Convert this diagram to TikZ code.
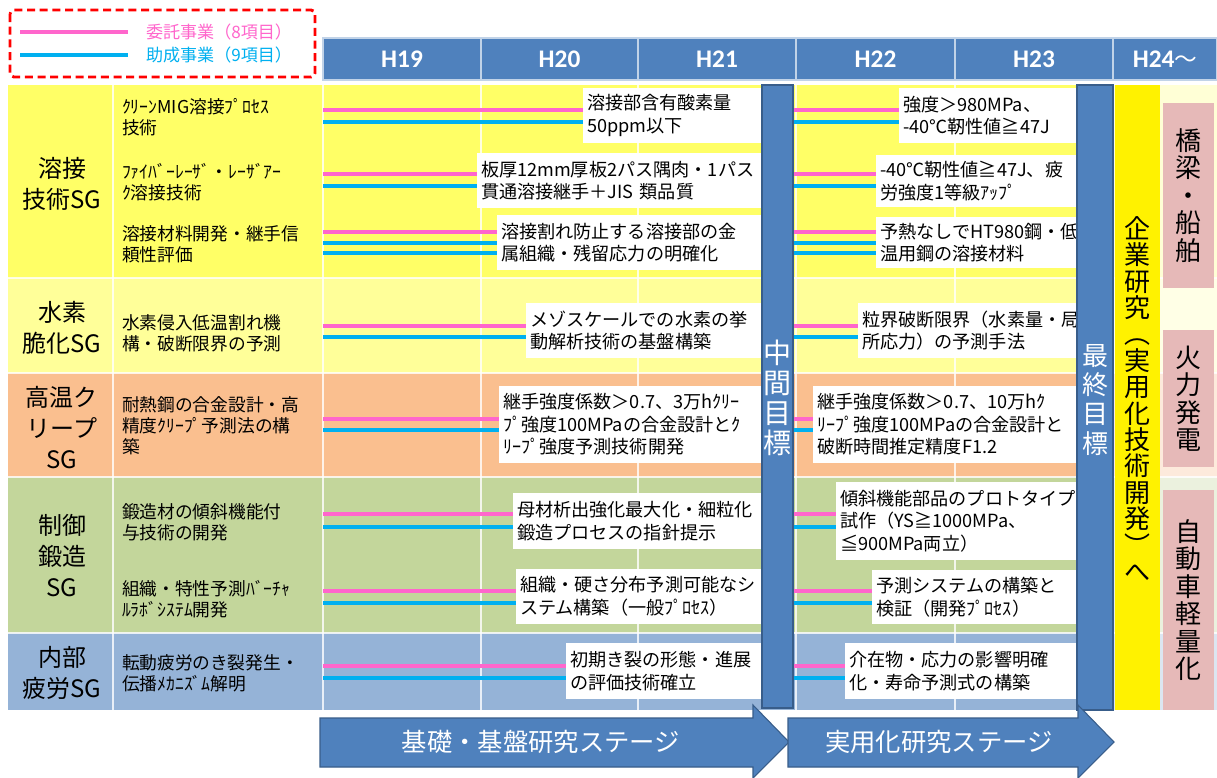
\documentclass[tikz,border=0pt]{standalone}
\usepackage{fontspec}
\setmainfont{Noto Sans CJK JP}
\newfontfamily\hdrfont{Carlito}
\definecolor{rowA}{HTML}{FFFF66}
\definecolor{rowB}{HTML}{FFFF99}
\definecolor{rowC}{HTML}{FABF8F}
\definecolor{rowD}{HTML}{C3D69B}
\definecolor{rowE}{HTML}{95B3D7}
\definecolor{rowAp}{HTML}{FFFFD6}
\definecolor{rowBp}{HTML}{FFFFE6}
\definecolor{rowCp}{HTML}{FDEADC}
\definecolor{rowDp}{HTML}{EBF1DE}
\definecolor{rowEp}{HTML}{DCE6F1}
\definecolor{hdr}{HTML}{4F81BD}
\definecolor{hdrline}{HTML}{385D8A}
\definecolor{lpink}{HTML}{FF66CC}
\definecolor{lblue}{HTML}{00B0F0}
\definecolor{goalpink}{HTML}{E6B9B8}
\newcommand{\rnode}[7]{%
  \pgfmathsetmacro\rnW{(#5-#3)*0.75}%
  \pgfmathsetmacro\rnH{(#6-#4)*0.75}%
  \node[#2, minimum width=\rnW pt, minimum height=\rnH pt, anchor=north west] (#1) at (#3,#4) {#7};}
\newcommand{\tnode}[6]{%
  \pgfmathsetmacro\rnW{(#4-#2-8)*0.75}%
  \pgfmathsetmacro\rnH{(#5-#3)*0.75}%
  \node[gbox, text width=\rnW pt, minimum height=\rnH pt, anchor=north west] (#1) at (#2,#3) {#6};}
\begin{document}
\begin{tikzpicture}[x=0.75pt,y=-0.75pt,
  every node/.style={inner sep=0pt, outer sep=0pt},
  gbox/.style={fill=white, draw=none, rectangle, inner xsep=3pt, inner ysep=0pt, align=left,
    font=\fontsize{13.6pt}{16.9pt}\selectfont},
  itemtext/.style={align=left, anchor=west, font=\fontsize{13.3pt}{15.9pt}\selectfont},
  sgtext/.style={align=center, font=\fontsize{18pt}{23.25pt}\selectfont},
  bar/.style={fill=hdr, draw=hdrline, line width=0.8pt},
  hcell/.style={fill=hdr, draw=white!65!hdr, line width=0.8pt, text=white,
    font=\hdrfont\bfseries\fontsize{19pt}{21pt}\selectfont},
  pinkline/.style={draw=lpink, line width=3pt},
  blueline/.style={draw=lblue, line width=3pt},
  gridline/.style={draw=white, line width=1pt, opacity=0.8},
  goal/.style={fill=goalpink, draw=none, align=center, font=\fontsize{19.5pt}{20.6pt}\selectfont},
  vtext/.style={align=center, text=white},
  stagearrow/.style={fill=hdr, draw=hdrline, line width=0.8pt},
  stagetext/.style={text=white, font=\fontsize{19pt}{21pt}\selectfont},
]
\useasboundingbox (0,0) rectangle (1217,778);
\fill[white] (0,0) rectangle (1217,778);

% legend
\draw[red, line width=2.2pt, dash pattern=on 6pt off 3.5pt, rounded corners=3pt] (10,10) rectangle (315,77);
\coordinate (lp1) at (20,32); \coordinate (lp2) at (128,32);
\coordinate (lb1) at (20,55); \coordinate (lb2) at (128,55);
\draw[pinkline] (lp1) -- (lp2);
\draw[blueline] (lb1) -- (lb2);
\node[anchor=west, text=lpink, font=\fontsize{12.8pt}{14pt}\selectfont] (legP) at (146,32) {委託事業（8項目）};
\node[anchor=west, text=lblue, font=\fontsize{12.8pt}{14pt}\selectfont] (legB) at (146,55) {助成事業（9項目）};

% header
\rnode{h19}{hcell}{323}{38}{481}{80}{H19}
\rnode{h20}{hcell}{481}{38}{638}{80}{H20}
\rnode{h21}{hcell}{638}{38}{796}{80}{H21}
\rnode{h22}{hcell}{796}{38}{955}{80}{H22}
\rnode{h23}{hcell}{955}{38}{1113}{80}{H23}
\rnode{h24}{hcell}{1113}{38}{1217}{80}{H24{\normalfont\fontsize{17pt}{19pt}\selectfont ～}}

% rows
\fill[rowA] (8,85) rectangle (1113,278);
\fill[rowB] (8,278) rectangle (1113,373);
\fill[rowC] (8,373) rectangle (1113,477);
\fill[rowD] (8,477) rectangle (1113,633);
\fill[rowE] (8,633) rectangle (1113,710);
\fill[rowAp] (1113,85) rectangle (1217,278);
\fill[rowBp] (1113,278) rectangle (1217,373);
\fill[rowCp] (1113,373) rectangle (1217,477);
\fill[rowDp] (1113,477) rectangle (1217,633);
\fill[rowEp] (1113,633) rectangle (1217,710);
\foreach \x in {113,323,481,638,796,955} \draw[gridline] (\x,85) -- (\x,710);
\foreach \y in {278,373,477,633} \draw[gridline, line width=1.5pt] (8,\y) -- (1217,\y);

% SG labels
\node[sgtext] (sg1) at (62,183.5) {溶接\\技術SG};
\node[sgtext] (sg2) at (62,327.5) {水素\\脆化SG};
\node[sgtext] (sg3) at (62,428) {高温ク\\リープ\\SG};
\node[sgtext] (sg4) at (62,556) {制御\\鍛造\\SG};
\node[sgtext] (sg5) at (62,673) {内部\\疲労SG};

% items
\node[itemtext] (it1) at (122,117.5) {ｸﾘｰﾝMIG溶接ﾌﾟﾛｾｽ\\技術};
\node[itemtext] (it2) at (122,182.5) {ﾌｧｲﾊﾞｰﾚｰｻﾞ・ﾚｰｻﾞｱｰ\\ｸ溶接技術};
\node[itemtext] (it3) at (122,244) {溶接材料開発・継手信\\頼性評価};
\node[itemtext] (it4) at (122,333) {水素侵入低温割れ機\\構・破断限界の予測};
\node[itemtext] (it5) at (122,425.5) {耐熱鋼の合金設計・高\\精度ｸﾘｰﾌﾟ予測法の構\\築};
\node[itemtext] (it6) at (122,522.5) {鍛造材の傾斜機能付\\与技術の開発};
\node[itemtext] (it7) at (122,599) {組織・特性予測ﾊﾞｰﾁｬ\\ﾙﾗﾎﾞｼｽﾃﾑ開発};
\node[itemtext] (it8) at (122,673) {転動疲労のき裂発生・\\伝播ﾒｶﾆｽﾞﾑ解明};

% project lines
\foreach \y in {110,174,232,326,419,514,591,666} \draw[pinkline] (323,\y) -- (1077,\y);
\foreach \y in {122,186,243,253,337,430,527,603,678} \draw[blueline] (323,\y) -- (1077,\y);

% milestone boxes (H19-H21)
\tnode{b1}{583}{88}{762}{143}{溶接部含有酸素量\\50ppm以下}
\tnode{b2}{477}{153}{762}{208}{板厚12mm厚板2パス隅肉・1パス\\貫通溶接継手＋JIS 類品質}
\tnode{b3}{497}{215}{762}{270}{溶接割れ防止する溶接部の金\\属組織・残留応力の明確化}
\tnode{b4}{526}{303}{762}{358}{メゾスケールでの水素の挙\\動解析技術の基盤構築}
\tnode{b5}{499}{386}{762}{463}{継手強度係数＞0.7、3万hｸﾘｰ\\ﾌﾟ強度100MPaの合金設計とｸ\\ﾘｰﾌﾟ強度予測技術開発}
\tnode{b6}{513}{493}{762}{549}{母材析出強化最大化・細粒化\\鍛造プロセスの指針提示}
\tnode{b7}{516}{569}{762}{624}{組織・硬さ分布予測可能なシ\\ステム構築（一般ﾌﾟﾛｾｽ）}
\tnode{b8}{566}{643}{762}{699}{初期き裂の形態・進展\\の評価技術確立}
% milestone boxes (H22-H23)
\tnode{b9}{899}{88}{1077}{143}{強度＞980MPa、\\-40℃靭性値≧47J}
\tnode{b10}{876}{155}{1077}{207}{-40℃靭性値≧47J、疲\\労強度1等級ｱｯﾌﾟ}
\tnode{b11}{876}{217}{1077}{268}{予熱なしでHT980鋼・低\\温用鋼の溶接材料}
\tnode{b12}{858}{303}{1077}{358}{粒界破断限界（水素量・局\\所応力）の予測手法}
\tnode{b13}{813}{386}{1077}{463}{継手強度係数＞0.7、10万hｸ\\ﾘｰﾌﾟ強度100MPaの合金設計と\\破断時間推定精度F1.2}
\tnode{b14}{836}{482}{1077}{560}{傾斜機能部品のプロトタイプ\\試作（YS≧1000MPa、\\≦900MPa両立）}
\tnode{b15}{872}{570}{1077}{624}{予測システムの構築と\\検証（開発ﾌﾟﾛｾｽ）}
\tnode{b16}{845}{643}{1077}{699}{介在物・応力の影響明確\\化・寿命予測式の構築}

% goal bars
\rnode{midbar}{bar}{762}{85}{793}{708}{}
\node[vtext, font=\fontsize{21pt}{22.5pt}\selectfont] (midtxt) at (777.5,397.5) {中\\間\\目\\標};
\rnode{finbar}{bar}{1077}{85}{1113}{710}{}
\node[vtext, font=\fontsize{19.5pt}{21.8pt}\selectfont] (fintxt) at (1095,400) {最\\終\\目\\標};
\rnode{corp}{fill=yellow, draw=none}{1115}{85}{1160}{710}{}
\node[align=center, font=\fontsize{19.5pt}{19.8pt}\selectfont] (corptxt) at (1137.5,399) {企\\業\\研\\究\\︵\\実\\用\\化\\技\\術\\開\\発\\︶\\へ};

% application boxes
\rnode{g1}{goal}{1163}{103}{1214}{288}{橋\\梁\\・\\船\\舶}
\rnode{g2}{goal}{1163}{330}{1214}{467}{火\\力\\発\\電}
\rnode{g3}{goal}{1163}{490}{1214}{710}{自\\動\\車\\軽\\量\\化}

% stage arrows
\draw[stagearrow] (320,718) -- (753,718) -- (753,705) -- (789,742) -- (753,778) -- (753,767) -- (320,767) -- cycle;
\draw[stagearrow] (788,718) -- (1078,718) -- (1078,705) -- (1114,742) -- (1078,778) -- (1078,767) -- (788,767) -- cycle;
\node[stagetext] (st1) at (541,742) {基礎・基盤研究ステージ};
\node[stagetext] (st2) at (939,742) {実用化研究ステージ};
\end{tikzpicture}
\end{document}
